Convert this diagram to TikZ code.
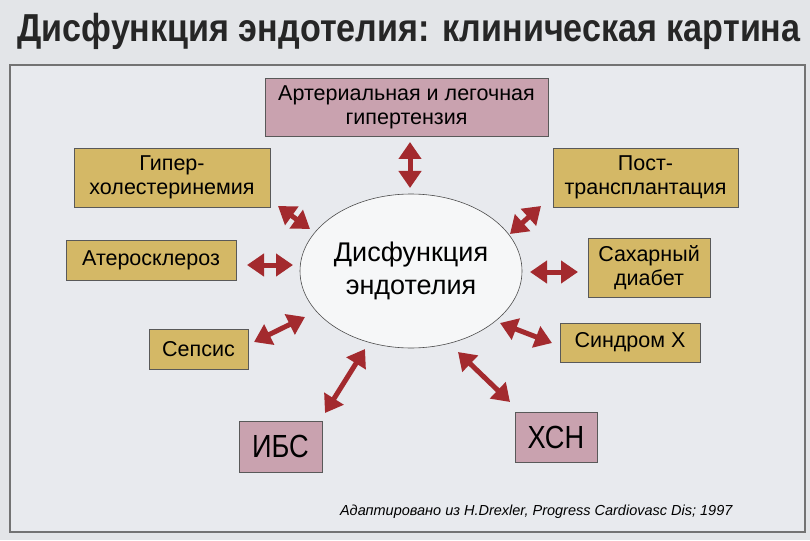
\documentclass[tikz,border=0pt]{standalone}
\usepackage{fontspec}
\setmainfont{Liberation Sans}
\newfontfamily\titlefont{Liberation Sans}[FakeStretch=0.875]
\newfontfamily\narrowfont{Liberation Sans}[FakeStretch=0.85]
\usetikzlibrary{shapes.geometric,arrows.meta}

\definecolor{paper}{HTML}{E3E5E8}
\definecolor{panel}{HTML}{E8EAEE}
\definecolor{boxgold}{HTML}{D4B866}
\definecolor{boxpink}{HTML}{C9A2AF}
\definecolor{linkred}{HTML}{A32A2E}

\begin{document}
\begin{tikzpicture}[x=1pt, y=-1pt,
			gold node/.style={rectangle,draw=black!65,line width=0.8pt,fill=boxgold,align=center,
				inner sep=0pt,font=\fontsize{21.5}{24}\selectfont},
			pink node/.style={rectangle,draw=black!65,line width=0.8pt,fill=boxpink,align=center,
				inner sep=0pt,font=\fontsize{21.5}{24}\selectfont},
			link/.style={line width=5pt,color=linkred,
				{Triangle[width=22pt 0,length=17pt 0]}-{Triangle[width=22pt 0,length=17pt 0]}}]
			
			\useasboundingbox[fill=paper] (0,0) rectangle (810,540);
			\fill[panel] (10,65) rectangle (805,532);
			\draw[black!55,line width=1.2pt] (10,65) rectangle (805,532);
			
			\node[font=\titlefont\bfseries\fontsize{39}{40}\selectfont,text=black!85] (title) at (409,31)
			{Дисфункция эндотелия: клиническая картина};
			
			\node[ellipse,draw=black!70,line width=0.6pt,fill=white!60!panel,inner sep=0pt,
				minimum width=222,minimum height=154,align=center,
				font=\fontsize{27}{33}\selectfont] (endo) at (411,271) {Дисфункция\\эндотелия};
			
			\node[pink node,minimum width=283,minimum height=58] (art) at (406.5,107)
			{Артериальная и легочная\\гипертензия};
			\node[gold node,minimum width=196,minimum height=59] (hyper) at (172,177.5)
			{Гипер-\\холестеринемия};
			\node[gold node,minimum width=170,minimum height=40] (athero) at (151,260) {Атеросклероз};
			\node[gold node,minimum width=99,minimum height=40] (sepsis) at (198.5,349) {Сепсис};
			\node[gold node,minimum width=185,minimum height=59] (post) at (645.5,177.5)
			{Пост-\\трансплантация};
			\node[gold node,minimum width=122,minimum height=59] (diab) at (649,267.5)
			{Сахарный\\диабет};
			\node[gold node,minimum width=140,minimum height=39] (synd) at (630,342.5) {Синдром Х};
			\node[pink node,minimum width=83,minimum height=51,font=\narrowfont\fontsize{32}{34}\selectfont]
			(ibs) at (280.5,446.5) {ИБС};
			\node[pink node,minimum width=82,minimum height=50,font=\narrowfont\fontsize{32}{34}\selectfont]
			(chf) at (556,437) {ХСН};
			
			\node[font=\itshape\fontsize{14.5}{16}\selectfont,anchor=east] (src) at (736,512)
			{Адаптировано из H.Drexler, Progress Cardiovasc Dis; 1997};
			
			% arrow ends
			\coordinate (art-a) at (410,142);   \coordinate (art-b) at (410,188);
			\coordinate (hyper-a) at (278,206); \coordinate (hyper-b) at (310,229);
			\coordinate (ath-a) at (247,265);   \coordinate (ath-b) at (293,265);
			\coordinate (sep-a) at (254,342);   \coordinate (sep-b) at (305,317);
			\coordinate (post-a) at (541,206);  \coordinate (post-b) at (510,234);
			\coordinate (diab-a) at (578,272);  \coordinate (diab-b) at (530,272);
			\coordinate (synd-a) at (552,343);  \coordinate (synd-b) at (500,323);
			\coordinate (ibs-a) at (325,413);   \coordinate (ibs-b) at (365,349);
			\coordinate (chf-a) at (510,402);   \coordinate (chf-b) at (458,352);
			
			\draw[link] (art-a) -- (art-b);
			\draw[link] (hyper-a) -- (hyper-b);
			\draw[link] (ath-a) -- (ath-b);
			\draw[link] (sep-a) -- (sep-b);
			\draw[link] (post-a) -- (post-b);
			\draw[link] (diab-a) -- (diab-b);
			\draw[link] (synd-a) -- (synd-b);
			\draw[link] (ibs-a) -- (ibs-b);
			\draw[link] (chf-a) -- (chf-b);
			\end{tikzpicture}
\end{document}
